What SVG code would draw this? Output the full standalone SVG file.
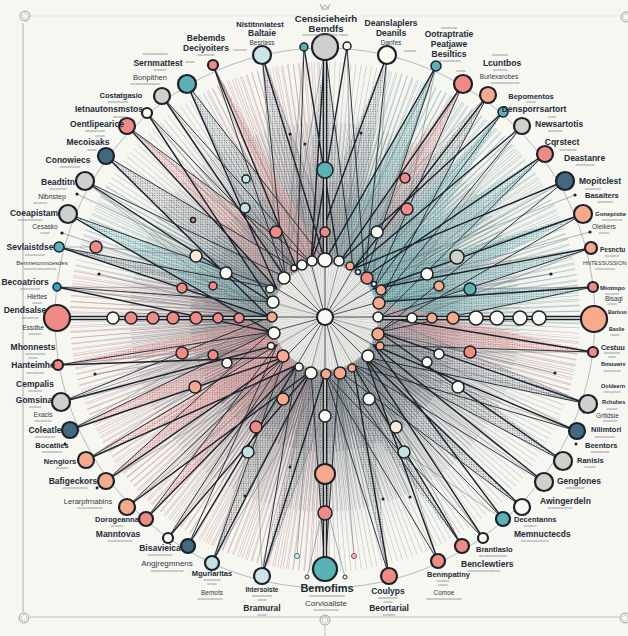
<svg xmlns="http://www.w3.org/2000/svg" width="628" height="636" viewBox="0 0 628 636">
<defs>
<style>
.h{font-family:"Liberation Sans",Arial,sans-serif;font-weight:bold;font-size:8.5px;fill:#222b36;text-anchor:middle}
.m{font-family:"Liberation Sans",Arial,sans-serif;font-size:6.5px;fill:#2f3944;text-anchor:middle}
.tn{font-family:"Liberation Sans",Arial,sans-serif;font-size:2.8px;fill:#7a7f84;text-anchor:middle}
.st{text-anchor:start}
.nd{stroke:#1b2128;stroke-width:2.2}
.nm{stroke:#1b2128;stroke-width:1.5}
.s{fill:#f08a84}.p{fill:#f6aa8b}.g{fill:#cfcfcb}.t{fill:#5ab2b4}.d{fill:#43697f}.b{fill:#cfe4ea}.w{fill:#fbfaf3}.c{fill:#f7ecda}.q{fill:#c4e2e2}.bl{fill:#2fa3c8}.mg{fill:#f3b8cf}
.k{stroke:#1c222a;stroke-width:1.4;fill:none}
.k2{stroke:#1c222a;stroke-width:.9;fill:none}
.lt{stroke:#5f6a70;stroke-width:.5;fill:none}
.fg{fill:url(#pg)}.ft{fill:url(#pt)}.fp{fill:url(#pp)}
.orn{fill:none;stroke:#8a8d90;stroke-width:.8}
.dot{fill:#1c222a}
</style>
<pattern id="pg" width="2.4" height="2.4" patternUnits="userSpaceOnUse"><rect width="2.4" height="2.4" fill="#c9cdcf" fill-opacity=".4"/><circle cx="1.2" cy="1.2" r=".55" fill="#454d52"/></pattern>
<pattern id="pt" width="2.4" height="2.4" patternUnits="userSpaceOnUse"><rect width="2.4" height="2.4" fill="#a9d2d3" fill-opacity=".45"/><circle cx="1.2" cy="1.2" r=".55" fill="#3a8488"/></pattern>
<pattern id="pp" width="2.4" height="2.4" patternUnits="userSpaceOnUse"><rect width="2.4" height="2.4" fill="#f0c4c0" fill-opacity=".45"/><circle cx="1.2" cy="1.2" r=".55" fill="#c9646a"/></pattern>
<radialGradient id="glow" cx="325" cy="317" r="230" gradientUnits="userSpaceOnUse">
<stop offset="0.2" stop-color="#5f686e" stop-opacity=".6"/>
<stop offset="0.55" stop-color="#8e979b" stop-opacity=".35"/>
<stop offset="1" stop-color="#c8cccc" stop-opacity="0"/>
</radialGradient>
<clipPath id="cpink"><polygon points="325,317 0,250 0,636 330,636"/><polygon points="325,317 150,0 330,0"/><polygon points="325,317 628,340 628,420"/></clipPath>
<clipPath id="cteal"><polygon points="325,317 400,0 628,0 628,330"/><polygon points="325,317 0,120 0,240"/></clipPath>
</defs>
<rect width="628" height="636" fill="#f7f7f2"/>
<g id="frame">
<line x1="23" y1="23" x2="23" y2="612" stroke="#9a9c9e" stroke-width=".8"/>
<line x1="31" y1="16" x2="619" y2="16" stroke="#dedfdd" stroke-width=".6"/>
<line x1="30" y1="617" x2="619" y2="617" stroke="#a8aaab" stroke-width=".7"/>
<line x1="325" y1="626" x2="325" y2="636" stroke="#a8aaab" stroke-width=".7"/>
<circle class="orn" cx="25" cy="16" r="5"/><circle class="orn" cx="25" cy="16" r="3" stroke-dasharray="1 .8"/>
<circle class="orn" cx="24" cy="618" r="5"/><circle class="orn" cx="24" cy="618" r="3" stroke-dasharray="1 .8"/>
<circle class="orn" cx="325" cy="620" r="5"/><circle class="orn" cx="325" cy="620" r="3" stroke-dasharray="1 .8"/>
<circle class="orn" cx="625" cy="618" r="5"/><circle class="orn" cx="625" cy="618" r="3" stroke-dasharray="1 .8"/>
<circle class="orn" cx="626" cy="17" r="5"/><circle class="orn" cx="626" cy="17" r="3" stroke-dasharray="1 .8"/>
<path class="orn" d="M320 4 L322 8 L325 5 L328 8 L330 4 M321 9 H329"/>
</g>
<g id="texture">
<circle cx="325" cy="317" r="230" fill="url(#glow)"/>
<circle cx="325" cy="317" r="155" fill="none" stroke="#59636a" stroke-width="200" stroke-dasharray="0.6 2.6" opacity=".35"/>
<circle cx="325" cy="317" r="125" fill="none" stroke="#2f363d" stroke-width="140" stroke-dasharray="0.6 2.2" opacity=".38"/>
<circle cx="325" cy="317" r="95" fill="none" stroke="#20262d" stroke-width="80" stroke-dasharray="0.8 1.8" opacity=".38"/>
<circle cx="325" cy="317" r="88" fill="none" stroke="#1a1f25" stroke-width="66" stroke-dasharray="0.5 1.3" opacity=".28"/>
<circle cx="325" cy="317" r="155" fill="none" stroke="#d9858a" stroke-width="200" stroke-dasharray="0.9 2.8" opacity=".45" clip-path="url(#cpink)"/>
<circle cx="325" cy="317" r="155" fill="none" stroke="#5ea5a8" stroke-width="200" stroke-dasharray="0.9 2.8" opacity=".4" clip-path="url(#cteal)"/>
</g>
<circle id="outer-ring" cx="325" cy="318" r="270" fill="none" stroke="#a4a9ac" stroke-width=".8"/>
<g id="fans" opacity=".8">
<polygon class="fg" points="325,47 297,269 353,269"/>
<polygon class="fg" points="262,55 285,277 339,263"/>
<polygon class="fg" points="387,55 297,269 353,269"/>
<polygon class="fp" points="463,84 325,261 373,289"/>
<polygon class="fg" points="488,95 339,263 379,302"/>
<polygon class="ft" points="503,112 353,269 381,317"/>
<polygon class="ft" points="545,154 353,269 379,332"/>
<polygon class="ft" points="583,214 365,277 381,317"/>
<polygon class="ft" points="593,287 373,289 379,332"/>
<polygon class="ft" points="591,248 373,289 381,317"/>
<polygon class="fp" points="593,352 379,302 373,345"/>
<polygon class="fg" points="588,404 381,317 365,357"/>
<polygon class="fg" points="563,461 381,317 365,357"/>
<polygon class="fg" points="522,507 365,357 339,371"/>
<polygon class="fg" points="462,546 353,365 325,373"/>
<polygon class="fg" points="389,576 339,371 365,357"/>
<polygon class="fg" points="325,569 311,371 339,371"/>
<polygon class="fg" points="262,576 311,371 339,371"/>
<polygon class="fg" points="212,563 311,371 285,357"/>
<polygon class="fp" points="146,519 297,365 277,345"/>
<polygon class="fp" points="106,481 285,357 271,332"/>
<polygon class="fp" points="86,460 297,365 277,345"/>
<polygon class="fp" points="70,430 285,357 271,332"/>
<polygon class="fp" points="58,365 277,345 269,317"/>
<polygon class="fg" points="59,247 269,317 277,289"/>
<polygon class="ft" points="68,214 271,332 277,289"/>
<polygon class="fg" points="106,156 269,317 297,269"/>
<polygon class="fp" points="127,126 277,289 311,263"/>
<polygon class="fg" points="187,84 277,289 325,261"/>
<polygon class="fp" points="213,65 297,269 325,261"/>
<polygon class="ft" points="436,66 325,261 365,277"/>
</g>
<g id="connectors">
<path class="lt" d="M325 47L285 277M262 55L339 263M387 55L373 289M488 95L325 261M522 126L381 317M565 181L373 289M591 248L379 332M588 404L381 317M577 431L379 332M462 546L365 357M389 576L339 371M262 576L339 371M212 563L325 373M106 481L297 365M61 402L271 332M59 247L271 302M85 181L269 317M127 126L297 269M213 65L311 263M436 66L339 263M304 47L285 277M347 47L353 269M262 55L276 232M187 84L245 208M245 208L285 277M436 66L407 209M407 209L365 277M463 84L405 178M405 178L353 269M377 232L353 269M377 232L436 66M276 232L297 269M226 273L277 289M106 156L226 273M213 286L269 317M85 181L213 286M196 256L271 302M96 247L196 256M59 247L96 247M182 288L271 302M57 287L182 288M182 353L271 332M58 365L182 353M213 355L271 332M227 363L277 345M61 402L227 363M195 387L277 345M86 460L195 387M283 399L297 365M256 427L285 357M262 576L256 427M248 452L297 365M212 563L248 452M369 399L353 365M396 427L365 357M438 561L396 427M404 452L353 365M503 519L404 452M458 387L365 357M577 431L458 387M470 352L379 332M593 352L470 352M439 354L373 345M427 362L373 345M588 404L427 362M427 274L373 289M591 248L427 274M439 286L379 302M470 289L379 302M593 287L470 289M457 257L365 277M583 214L457 257M575 195L365 277M590 232L373 289M551 274L379 302M555 373L379 332M77 194L277 289M62 233L271 302M99 274L271 317M95 374L277 345M97 488L285 357M245 496L311 371M290 467L311 371M383 499L339 371M410 497L353 365M290 134L311 263M305 144L325 261M361 133L339 263M297 556L311 371M354 556L339 371M345 577L325 500M307 577L325 500M147 113L285 277M162 96L297 269M168 538L297 365M127 507L297 365M483 538L353 365M544 482L365 357M503 112L365 277M545 154L379 302M70 430L269 317M57 287L269 317"/>
<path class="k2" d="M325 47L353 269M304 47L297 269M347 47L365 277M262 55L285 277M387 55L365 277M436 66L365 277M463 84L373 289M488 95L379 302M503 112L373 289M522 126L379 302M545 154L381 317M565 181L379 332M583 214L379 332M591 248L381 317M593 287L379 332M593 352L373 345M588 404L365 357M577 431L353 365M563 461L365 357M544 482L353 365M522 507L339 371M503 519L353 365M483 538L325 373M462 546L339 371M438 561L325 373M389 576L325 373M325 569L339 371M325 569L311 371M262 576L297 365M212 563L285 357M188 546L277 345M168 538L285 357M146 519L277 345M127 507L285 357M106 481L271 332M86 460L277 345M70 430L271 332M61 402L269 317M58 365L271 332M57 287L271 302M59 247L277 289M68 214L277 289M85 181L285 277M106 156L297 269M127 126L311 263M147 113L297 269M162 96L311 263M187 84L325 261M213 65L285 277"/>
<path class="k" d="M325 47L311 263M304 47L339 263M347 47L311 263M262 55L325 261M387 55L311 263M436 66L325 261M463 84L339 263M488 95L353 269M503 112L339 263M522 126L353 269M545 154L365 277M565 181L353 269M583 214L373 289M591 248L373 289M593 287L379 302M593 352L381 317M588 404L379 332M577 431L373 345M563 461L379 332M544 482L373 345M522 507L365 357M503 519L373 345M483 538L365 357M462 546L353 365M438 561L365 357M389 576L353 365M262 576L325 373M212 563L311 371M188 546L297 365M168 538L311 371M146 519L297 365M127 507L311 371M106 481L285 357M86 460L297 365M70 430L285 357M61 402L277 345M58 365L285 357M57 287L271 332M59 247L269 317M68 214L271 332M85 181L271 302M106 156L269 317M127 126L277 289M147 113L271 302M162 96L285 277M187 84L277 289M213 65L297 269"/>
<path d="M70 318H269M381 318H581M325 60V261M325 373V557" stroke="#1c222a" stroke-width="4.5" fill="none"/>
<path d="M70 318H269M381 318H581M325 60V261M325 373V557" stroke="#f4f4ee" stroke-width="1.5" fill="none"/>
</g>
<g id="dots">
<circle class="dot" cx="575" cy="195" r="1.6"/><circle class="dot" cx="590" cy="232" r="1.6"/><circle class="dot" cx="551" cy="274" r="1.6"/><circle class="dot" cx="555" cy="373" r="1.6"/><circle class="dot" cx="584" cy="412" r="1.5"/><circle class="dot" cx="576" cy="444" r="1.5"/>
<circle class="dot" cx="77" cy="194" r="1.6"/><circle class="dot" cx="62" cy="233" r="1.6"/><circle class="dot" cx="99" cy="274" r="1.6"/><circle class="dot" cx="95" cy="374" r="1.6"/><circle class="dot" cx="65" cy="444" r="1.4"/><circle class="dot" cx="97" cy="488" r="1.4"/>
<circle class="dot" cx="245" cy="496" r="1.5"/><circle class="dot" cx="290" cy="467" r="1.5"/><circle class="dot" cx="383" cy="499" r="1.5"/><circle class="dot" cx="410" cy="497" r="1.5"/><circle class="dot" cx="290" cy="134" r="1.5"/><circle class="dot" cx="305" cy="144" r="1.5"/><circle class="dot" cx="361" cy="133" r="1.5"/>
<circle cx="297" cy="556" r="2.5" fill="#dfeeee" stroke="#3b6f80" stroke-width="1"/><circle cx="354" cy="556" r="2.5" class="mg" stroke="#b03070" stroke-width="1"/><circle cx="345" cy="577" r="2" fill="#eee" stroke="#333" stroke-width="1"/><circle cx="307" cy="577" r="2" fill="#eee" stroke="#333" stroke-width="1"/>
</g>
<g id="hub">
<circle cx="325" cy="317" r="53" fill="#ecece7"/>
<circle cx="325" cy="317" r="27" fill="none" stroke="#9ea3a6" stroke-width="52" stroke-dasharray="0.35 1.3" opacity=".55"/>
<path d="M325 317L381 317M325 317L373 345M325 317L339 371M325 317L297 365M325 317L271 332M325 317L277 289M325 317L311 263M325 317L353 269M325 317L379 302M325 317L365 357M325 317L325 373M325 317L285 357M325 317L269 317M325 317L285 277M325 317L325 261M325 317L373 289" stroke="#2a3038" stroke-width=".8"/>
<path d="M325 317L379 332M325 317L353 365M325 317L311 371M325 317L277 345M325 317L271 302M325 317L297 269M325 317L339 263M325 317L365 277" stroke="#2a3038" stroke-width=".4"/>
</g>
<g id="ring-nodes" class="nm">
<circle class="w" cx="312" cy="261" r="5"/><circle class="w" cx="325" cy="260" r="7"/><circle class="w" cx="339" cy="261" r="5"/><circle class="p" cx="350" cy="266" r="4"/><circle class="w" cx="358" cy="272" r="2.5"/><circle class="s" cx="367" cy="278" r="6"/><circle class="w" cx="374" cy="284" r="2.5"/><circle class="p" cx="381" cy="290" r="5"/><circle class="p" cx="379" cy="303" r="6"/><circle class="w" cx="378" cy="317" r="5"/><circle class="p" cx="378" cy="334" r="6"/><circle class="p" cx="380" cy="346" r="4"/><circle class="w" cx="368" cy="356" r="6"/><circle class="p" cx="352" cy="368" r="4"/><circle class="p" cx="340" cy="373" r="6"/><circle class="p" cx="326" cy="374" r="5"/><circle class="w" cx="311" cy="373" r="6"/><circle class="w" cx="299" cy="367" r="4"/><circle class="p" cx="283" cy="356" r="6"/><circle class="w" cx="271" cy="346" r="3.5"/><circle class="w" cx="274" cy="333" r="6"/><circle class="p" cx="272" cy="317" r="5"/><circle class="w" cx="273" cy="302" r="6"/><circle class="w" cx="270" cy="289" r="4"/><circle class="w" cx="284" cy="278" r="6"/><circle class="w" cx="294" cy="268" r="3"/><circle class="w" cx="302" cy="265" r="5"/>
</g>
<g id="center" class="nm"><circle class="w" cx="325" cy="317" r="8" stroke-width="2"/></g>
<g id="mid-nodes" class="nm">
<circle class="t" cx="325" cy="170" r="8"/><circle class="s" cx="325" cy="232" r="5"/><circle class="w" cx="377" cy="232" r="6"/><circle class="s" cx="407" cy="209" r="6"/><circle class="s" cx="405" cy="178" r="5"/><circle class="s" cx="276" cy="232" r="6"/><circle class="q" cx="245" cy="208" r="5"/><circle class="q" cx="246" cy="179" r="4"/>
<circle class="w" cx="226" cy="273" r="6"/><circle class="s" cx="213" cy="286" r="4"/><circle class="c" cx="196" cy="256" r="6"/><circle class="s" cx="96" cy="247" r="6"/><circle class="s" cx="182" cy="288" r="5"/><circle class="s" cx="193" cy="220" r="2.5"/>
<circle class="w" cx="113" cy="318" r="6"/><circle class="s" cx="131" cy="318" r="6"/><circle class="s" cx="153" cy="318" r="6"/><circle class="s" cx="173" cy="318" r="6"/><circle class="s" cx="196" cy="318" r="6"/><circle class="s" cx="218" cy="318" r="5"/><circle class="s" cx="239" cy="318" r="5"/>
<circle class="s" cx="182" cy="353" r="6"/><circle class="s" cx="213" cy="355" r="5"/><circle class="w" cx="227" cy="363" r="5"/><circle class="p" cx="195" cy="387" r="6"/>
<circle class="p" cx="283" cy="399" r="6"/><circle class="s" cx="256" cy="427" r="6"/><circle class="q" cx="248" cy="452" r="6"/>
<circle class="w" cx="325" cy="416" r="6"/><circle class="p" cx="325" cy="474" r="10" stroke-width="2"/><circle class="s" cx="325" cy="513" r="7"/>
<circle class="w" cx="369" cy="399" r="6"/><circle class="c" cx="396" cy="427" r="6"/><circle class="q" cx="404" cy="452" r="6"/>
<circle class="w" cx="412" cy="318" r="5"/><circle class="p" cx="432" cy="318" r="5"/><circle class="p" cx="453" cy="318" r="6"/><circle class="w" cx="476" cy="318" r="7"/><circle class="w" cx="497" cy="318" r="7"/><circle class="w" cx="520" cy="318" r="7"/><circle class="w" cx="539" cy="318" r="7"/>
<circle class="w" cx="427" cy="274" r="6"/><circle class="p" cx="439" cy="286" r="5"/><circle class="t" cx="470" cy="289" r="6"/><circle class="g" cx="457" cy="257" r="7"/>
<circle class="s" cx="470" cy="352" r="6"/><circle class="w" cx="439" cy="354" r="5"/><circle class="w" cx="427" cy="362" r="5"/><circle class="w" cx="458" cy="387" r="6"/>
</g>
<g id="n1"><circle class="g nd" cx="325" cy="47" r="13"/><text class="h" x="326" y="22" style="font-size:9.5px">Censicieheirh</text><text class="h" x="326" y="32" style="font-size:9.5px">Bemdfs</text><text class="tn" x="325" y="36">unontvanenoua tonsolunsiss snnoon</text></g>
<g id="n2"><circle class="t nm" cx="304" cy="47" r="4"/></g>
<g id="n3"><circle class="w nm" cx="347" cy="46" r="4"/></g>
<g id="n4"><circle class="b nd" cx="262" cy="55" r="9"/><text class="h" x="260" y="27" style="font-size:7.5px">Nlstitnnlatest</text><text class="h" x="262" y="36">Baltaie</text><text class="m" x="262" y="45">Besrlass</text><text class="tn" x="240" y="51">auousanon</text></g>
<g id="n5"><circle class="w nd" cx="387" cy="55" r="9"/><text class="h" x="391" y="26">Deanslaplers</text><text class="h" x="391" y="36">Deanils</text><text class="m" x="391" y="45">Danfes</text><text class="tn" x="410" y="52">anoaonan</text></g>
<g id="n6"><circle class="t nm" cx="436" cy="66" r="5"/><text class="tn" x="449" y="29">anouamonan</text><text class="h" x="449" y="37">Ootraptratie</text><text class="h" x="449" y="47">Peatjawe</text><text class="h" x="449" y="57">Besiltics</text><text class="tn" x="450" y="62">an ouaonansionn</text></g>
<g id="n7"><circle class="s nd" cx="463" cy="84" r="9"/><text class="tn" x="461" y="72">anuano</text></g>
<g id="n8"><circle class="p nd" cx="488" cy="95" r="8"/><text class="tn" x="500" y="56">anoanonaon</text><text class="h" x="502" y="66">Lcuntbos</text><text class="tn" x="500" y="71">annonuona</text><text class="m" x="499" y="79">Burlexarobes</text><text class="tn" x="505" y="84">uonoaononoaononuans</text></g>
<g id="n9"><circle class="t nm" cx="503" cy="112" r="5"/><text class="h" x="531" y="99" style="font-size:7.5px">Bepomentos</text><text class="tn" x="531" y="103">anauan</text><text class="h" x="534" y="112">Densporrsartort</text></g>
<g id="n10"><circle class="g nd" cx="522" cy="126" r="8"/><text class="tn" x="552" y="118">auoan</text><text class="h st" x="535" y="127">Newsartotis</text><text class="tn" x="555" y="132">anuannono</text></g>
<g id="n11"><circle class="s nd" cx="545" cy="154" r="8"/><text class="h" x="562" y="145">Cqrstect</text><text class="tn" x="568" y="151">nuonoaonooo</text></g>
<g id="n12"><circle class="d nd" cx="565" cy="181" r="9"/><text class="h st" x="564" y="161">Deastanre</text><text class="tn" x="585" y="166">anoanonoanon</text><text class="h st" x="579" y="184">Mopitclest</text><text class="tn" x="593" y="190">ouaonunaon</text></g>
<g id="n13"><circle class="p nd" cx="583" cy="214" r="9"/><text class="h st" x="585" y="198" style="font-size:7.5px">Basaiters</text><text class="tn" x="605" y="203">auonunonon</text><text class="h st" x="595" y="216" style="font-size:6px">Gonepistie</text><text class="tn" x="612" y="221">anouanuanonan</text><text class="m st" x="592" y="229">Oleikers</text><text class="tn" x="604" y="234">anoanou</text></g>
<g id="n14"><circle class="p nd" cx="591" cy="248" r="6"/><text class="h st" x="600" y="252" style="font-size:6.5px">Pesnctu</text><text class="tn" x="612" y="257">anuoaonun</text><text class="m st" x="583" y="265" style="font-size:5.5px">HNTESSUSSION</text><text class="tn" x="605" y="270">anoaonuaonuan</text></g>
<g id="n15"><circle class="s nd" cx="593" cy="287" r="5"/><text class="h st" x="600" y="290" style="font-size:6px">Miotmpo</text><text class="tn" x="612" y="295">anouaonon</text><text class="m st" x="605" y="301">Bisagi</text><text class="tn" x="612" y="305">uonoan</text></g>
<g id="n16"><circle class="p nd" cx="594" cy="319" r="13"/><text class="h st" x="608" y="314" style="font-size:5.2px">Barisso</text><text class="h st" x="609" y="331" style="font-size:5.2px">Baslie</text><text class="tn" x="615" y="336">anoano</text></g>
<g id="n17"><circle class="s nd" cx="593" cy="352" r="5"/><text class="h st" x="601" y="350" style="font-size:7px">Cestuu</text><text class="tn" x="612" y="354">anouanonon</text><text class="tn" x="612" y="358">anoan</text><text class="h st" x="601" y="366" style="font-size:5.5px">Bmuuwiv</text><text class="tn" x="612" y="372">anonuaonuan</text></g>
<g id="n18"><circle class="g nd" cx="588" cy="404" r="9"/><text class="h st" x="601" y="388" style="font-size:5.5px">Ooldeern</text><text class="tn" x="612" y="393">anonuaonuon</text><text class="h st" x="602" y="404" style="font-size:5.5px">Rchuhes</text><text class="tn" x="612" y="410">anouaon</text></g>
<g id="n19"><circle class="d nd" cx="577" cy="431" r="8"/><text class="m st" x="596" y="418">Grttdsie</text><text class="tn" x="610" y="422">anouaonon</text><text class="h st" x="591" y="432" style="font-size:7.5px">Nilimtori</text><text class="tn" x="605" y="438">anouanonuanon</text></g>
<g id="n20"><circle class="g nd" cx="563" cy="461" r="9"/><text class="h st" x="585" y="448" style="font-size:7.5px">Beentors</text><text class="tn" x="600" y="453">anouanonuaon</text><text class="h st" x="577" y="463" style="font-size:7.5px">Ranlsis</text><text class="tn" x="590" y="468">anouaon</text></g>
<g id="n21"><circle class="g nd" cx="544" cy="482" r="9"/><text class="h st" x="557" y="484">Genglones</text><text class="tn" x="575" y="489">anouanonuaon</text></g>
<g id="n22"><circle class="w nd" cx="522" cy="507" r="8"/><text class="h st" x="540" y="504">Awingerdeln</text><text class="tn" x="560" y="509">anouanonuanonuan</text></g>
<g id="n23"><circle class="t nd" cx="503" cy="519" r="7"/><text class="h st" x="514" y="522" style="font-size:7.5px">Decentanns</text><text class="tn" x="530" y="527">anouaonu</text><text class="h st" x="514" y="537">Memnuctecds</text><text class="tn" x="535" y="542">anouanonuanonuanon</text></g>
<g id="n24"><circle class="w nd" cx="483" cy="538" r="5"/><text class="h st" x="476" y="552" style="font-size:7.5px">Brantlaslo</text><text class="tn" x="493" y="557">anouanonuanonuanon</text></g>
<g id="n25"><circle class="s nd" cx="462" cy="546" r="7"/><text class="h st" x="461" y="567">Benclewtiers</text><text class="tn" x="484" y="572">anouanonuanonuanonuan</text></g>
<g id="n26"><circle class="s nd" cx="438" cy="561" r="7"/><text class="h st" x="427" y="577" style="font-size:7.5px">Benmpatiny</text><text class="tn" x="443" y="582">anouanon</text><text class="tn" x="443" y="586">anouan</text><text class="m" x="444" y="595">Comoe</text><text class="tn" x="444" y="600">anouanonuanonuanonuanon</text></g>
<g id="n27"><circle class="s nd" cx="389" cy="576" r="8"/><text class="h" x="388" y="594">Coulyps</text><text class="tn" x="388" y="599">anouanonuanon</text><text class="tn" x="388" y="603">anouan</text><text class="h" x="389" y="611">Beortarial</text><text class="tn" x="389" y="616">anouanon</text></g>
<g id="n28"><circle class="t nd" cx="325" cy="569" r="12"/><text class="h" x="327" y="592" style="font-size:11px">Bemofims</text><text class="tn" x="327" y="597">anouanonuanonuanonuanon</text><text class="m" x="326" y="606" style="font-size:8px">Corvioaliste</text><text class="tn" x="326" y="611">anouanonuanonuan</text></g>
<g id="n29"><circle class="b nd" cx="262" cy="576" r="8"/><text class="h" x="262" y="592" style="font-size:6.5px">Ihtersolste</text><text class="tn" x="262" y="597">anouanonuanon</text><text class="tn" x="262" y="601">anouan</text><text class="h" x="262" y="611">Bramural</text><text class="tn" x="262" y="616">anouan</text></g>
<g id="n30"><circle class="q nd" cx="212" cy="563" r="7"/><text class="h" x="212" y="576" style="font-size:7.5px">Mgurlarltas</text><text class="tn" x="212" y="581">anouanonuan</text><text class="tn" x="212" y="585">anouan</text><text class="m" x="212" y="595">Bemots</text><text class="tn" x="210" y="600">anouanonuanonuan</text></g>
<g id="n31"><circle class="d nd" cx="188" cy="546" r="7"/><text class="h" x="160" y="551">Bisavieica</text><text class="tn" x="160" y="556">anouanonuanonuan</text><text class="m" x="167" y="566" style="font-size:8px">Angjregmnens</text><text class="tn" x="167" y="572">anouanonuanonuanonuan</text></g>
<g id="n32"><circle class="w nd" cx="168" cy="538" r="5"/></g>
<g id="n33"><circle class="s nd" cx="146" cy="519" r="7"/><text class="h" x="117" y="522" style="font-size:7.5px">Dorogeanna</text><text class="tn" x="117" y="527">anouanon</text><text class="h" x="118" y="537">Manntovas</text><text class="tn" x="120" y="542">anouanonuanonuan</text></g>
<g id="n34"><circle class="p nd" cx="127" cy="507" r="8"/><text class="m" x="88" y="504" style="font-size:7.5px">Lerarpfrnabins</text><text class="tn" x="90" y="509">anouanonuanonuan</text></g>
<g id="n35"><circle class="p nd" cx="106" cy="481" r="8"/><text class="h" x="73" y="484">Bafigeckors</text><text class="tn" x="75" y="489">anouanonuanonuan</text></g>
<g id="n36"><circle class="p nd" cx="86" cy="460" r="8"/><text class="h" x="60" y="464" style="font-size:7.5px">Nengiors</text><text class="tn" x="62" y="469">anouanon</text></g>
<g id="n37"><circle class="d nd" cx="70" cy="430" r="8"/><text class="h" x="45" y="433">Coleatle</text><text class="tn" x="45" y="438">anouanonuanon</text><text class="h" x="52" y="448" style="font-size:7.5px">Bocatlies</text><text class="tn" x="52" y="453">anouanonuanon</text></g>
<g id="n38"><circle class="g nd" cx="61" cy="402" r="9"/><text class="h" x="35" y="387">Cempalis</text><text class="tn" x="35" y="392">anouanonu</text><text class="h" x="34" y="403">Gomsina</text><text class="tn" x="35" y="408">anouanon</text><text class="m" x="43" y="417">Exacis</text><text class="tn" x="43" y="422">anouanonuan</text></g>
<g id="n39"><circle class="s nd" cx="58" cy="365" r="5"/><text class="h" x="33" y="350">Mhonnests</text><text class="tn" x="35" y="355">anouanonuanon</text><text class="tn" x="33" y="359">anouan</text><text class="h" x="33" y="368">Hanteimhe</text><text class="tn" x="35" y="374">anouanonuan</text></g>
<g id="n40"><circle class="s nd" cx="57" cy="318" r="13"/><text class="h" x="25" y="313">Dendsalse</text><text class="tn" x="30" y="319">anouanonuan</text><text class="m" x="33" y="330">Essdbe</text><text class="tn" x="35" y="335">anouanon</text></g>
<g id="n41"><circle class="bl nm" cx="57" cy="287" r="4"/><text class="h" x="25" y="285">Becoatriors</text><text class="tn" x="30" y="290">anouanonuanon</text><text class="m" x="37" y="299">Hlettes</text><text class="tn" x="37" y="304">anouan</text></g>
<g id="n42"><circle class="t nm" cx="59" cy="247" r="5"/><text class="h" x="30" y="250">Sevlaistdse</text><text class="tn" x="35" y="256">anouanonuanon</text><text class="m" x="42" y="265" style="font-size:6px">Bemnetonmcesdes</text><text class="tn" x="40" y="270">anouanonuanonuanonuan</text></g>
<g id="n43"><circle class="g nd" cx="68" cy="214" r="9"/><text class="h" x="34" y="216">Coeapistam</text><text class="tn" x="30" y="221">anouanonuanonuan</text><text class="m" x="45" y="229">Cesasko</text><text class="tn" x="45" y="234">anouan</text></g>
<g id="n44"><circle class="g nd" cx="85" cy="181" r="9"/><text class="h" x="58" y="185">Beadtitn</text><text class="tn" x="58" y="190">anouanonuan</text><text class="m" x="52" y="199" style="font-size:7px">Nlbnstep</text><text class="tn" x="40" y="204">anouanonu</text></g>
<g id="n45"><circle class="d nd" cx="106" cy="156" r="8"/><text class="h" x="68" y="163">Conowiecs</text><text class="tn" x="70" y="168">anouanonuanon</text></g>
<g id="n46"><circle class="s nd" cx="127" cy="126" r="8"/><text class="h" x="97" y="127">Oentlipearice</text><text class="tn" x="95" y="132">anouanonuanon</text><text class="tn" x="100" y="137">anouan</text><text class="h" x="88" y="145">Mecoisaks</text><text class="tn" x="92" y="151">anouan</text></g>
<g id="n47"><circle class="w nd" cx="147" cy="113" r="5"/><text class="h" x="109" y="112">Ietnautonsmstos</text><text class="tn" x="120" y="118">anouanonu</text></g>
<g id="n48"><circle class="g nd" cx="162" cy="96" r="8"/><text class="h" x="121" y="98" style="font-size:7.5px">Costatgasio</text><text class="tn" x="118" y="103">anouanonuanon</text></g>
<g id="n49"><circle class="t nd" cx="187" cy="84" r="9"/><text class="tn" x="155" y="55">anouanonuanonuan</text><text class="h" x="158" y="66">Sernmattest</text><text class="tn" x="160" y="71">anouanon</text><text class="m" x="150" y="80" style="font-size:7.5px">Bonpithen</text><text class="tn" x="145" y="85">anouanonuanonuanonu</text></g>
<g id="n50"><circle class="s nd" cx="213" cy="65" r="5"/><text class="h" x="206" y="41">Bebemds</text><text class="h" x="206" y="51">Deciyoiters</text><text class="tn" x="206" y="56">anouanonuan</text><text class="tn" x="190" y="63">anouan</text></g>
</svg>
